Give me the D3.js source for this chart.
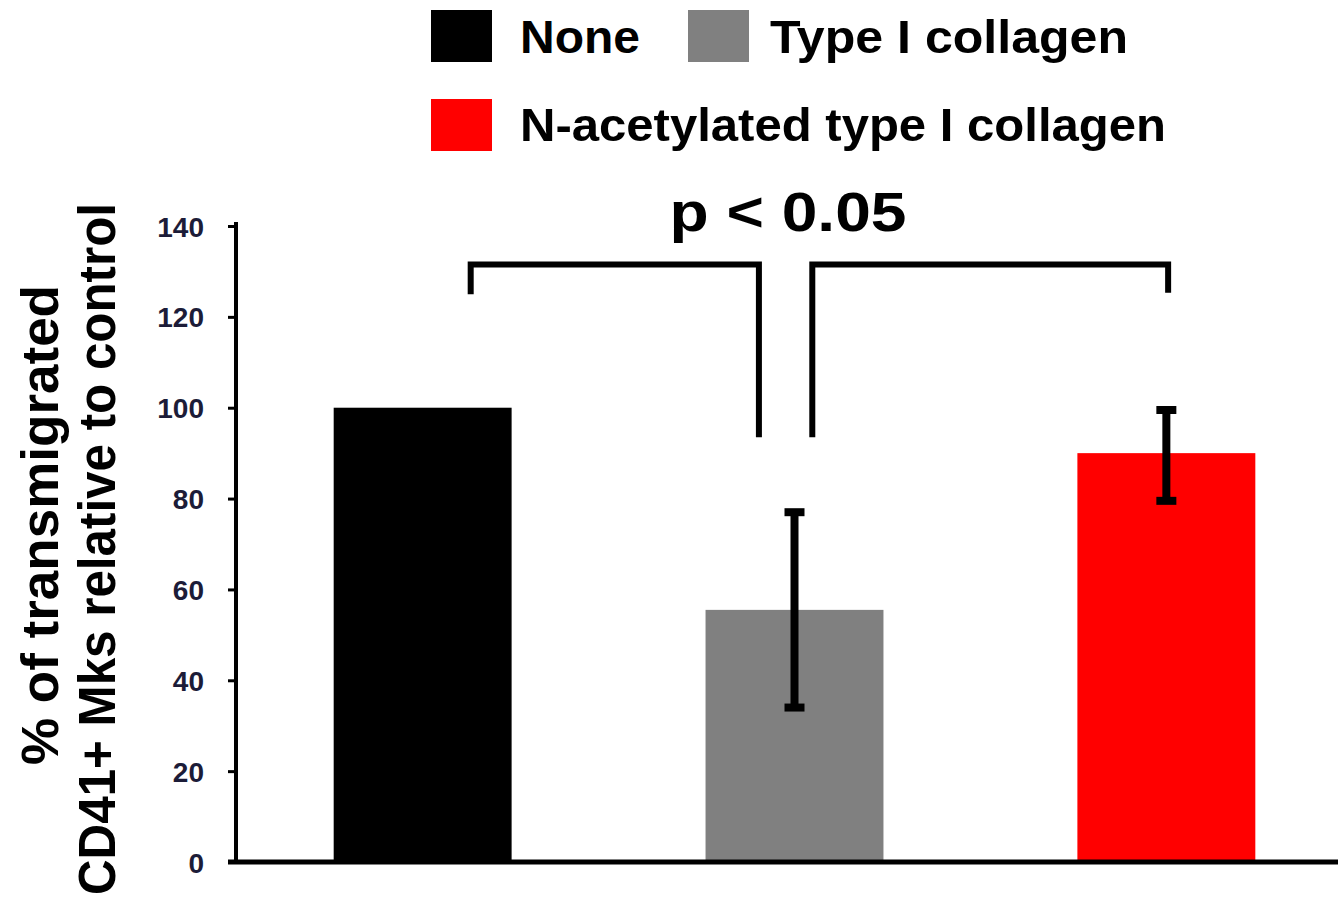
<!DOCTYPE html>
<html>
<head>
<meta charset="utf-8">
<script src="https://cdn.jsdelivr.net/npm/d3@7/dist/d3.min.js"></script>
<style>
  html, body { margin: 0; padding: 0; background: #fff; }
  svg { display: block; }
  text { font-family: "Liberation Sans", Arial, sans-serif; font-weight: bold; }
</style>
</head>
<body>
<svg id="chart" width="1338" height="901"></svg>
<script>
// ---- data ----
const categories = ["None", "Type I collagen", "N-acetylated type I collagen"];
const values = [100, 55.5, 90];
const errLow = [null, 34, 79.5];
const errHigh = [null, 77, 99.5];
const colors = ["#000000", "#808080", "#ff0000"];
const yTicks = [0, 20, 40, 60, 80, 100, 120, 140];
const yTitle = ["% of transmigrated", "CD41+ Mks relative to control"];
const pLabel = "p < 0.05";
// significance brackets: band-relative positions (0..1 within band)
const brackets = [
  { from: 0, fromPos: 0.77, to: 1, toPos: 0.30, level: 131.5, fromEnd: 125, toEnd: 93.5 },
  { from: 1, fromPos: 0.60, to: 2, toPos: 0.51, level: 131.5, fromEnd: 93.5, toEnd: 125.3 }
];

const svg = d3.select("#chart");

const x = d3.scaleBand().domain(categories).range([237, 1352]).paddingInner(0.5215).paddingOuter(0.26);
const y = d3.scaleLinear().domain([0, 140]).range([862, 226]);

// bars
svg.append("g").selectAll("rect").data(categories).join("rect")
  .attr("x", d => x(d))
  .attr("width", x.bandwidth())
  .attr("y", (d, i) => y(values[i]))
  .attr("height", (d, i) => y(0) - y(values[i]))
  .attr("fill", (d, i) => colors[i]);

// error bars
const eb = svg.append("g").attr("stroke", "#000");
categories.forEach((c, i) => {
  if (errLow[i] == null) return;
  const cx = x(c) + x.bandwidth() / 2;
  eb.append("line").attr("x1", cx).attr("x2", cx)
    .attr("y1", y(errLow[i])).attr("y2", y(errHigh[i])).attr("stroke-width", 8);
  [errLow[i], errHigh[i]].forEach(v => {
    eb.append("line").attr("x1", cx - 10).attr("x2", cx + 10)
      .attr("y1", y(v)).attr("y2", y(v)).attr("stroke-width", 8);
  });
});

// y axis
const yAxis = d3.axisLeft(y).tickValues(yTicks).tickSize(8).tickSizeOuter(0).tickPadding(24);
const gy = svg.append("g").attr("transform", "translate(236,0)").call(yAxis);
gy.select(".domain").attr("stroke", "#000").attr("stroke-width", 4)
  .attr("d", `M0,${y(0)}V${y(140) - 4}`);
gy.selectAll(".tick line").attr("stroke", "#000").attr("stroke-width", 3);
gy.selectAll(".tick text").attr("fill", "#1c1c38").attr("font-size", 28)
  .attr("font-weight", "bold").attr("font-family", "Liberation Sans, Arial, sans-serif")
  .attr("dy", "0.36em");

// x axis line
svg.append("line").attr("x1", 228).attr("x2", 1338).attr("y1", y(0)).attr("y2", y(0))
  .attr("stroke", "#000").attr("stroke-width", 5);

// brackets
const bg = svg.append("g").attr("fill", "none").attr("stroke", "#000").attr("stroke-width", 6)
  .attr("stroke-linejoin", "miter");
brackets.forEach(b => {
  const x1 = x(categories[b.from]) + b.fromPos * x.bandwidth();
  const x2 = x(categories[b.to]) + b.toPos * x.bandwidth();
  bg.append("path").attr("d",
    `M${x1},${y(b.fromEnd)}V${y(b.level)}H${x2}V${y(b.toEnd)}`);
});

// p label
svg.append("text").attr("x", 788).attr("y", 231).attr("text-anchor", "middle")
  .attr("font-size", 56).attr("textLength", 237).attr("lengthAdjust", "spacingAndGlyphs")
  .text(pLabel);

// legend
const legendItems = [
  { i: 0, sx: 431, sy: 10, tx: 520, ty: 53, w: 120 },
  { i: 1, sx: 688, sy: 10, tx: 770, ty: 53, w: 358 },
  { i: 2, sx: 431, sy: 99, tx: 520, ty: 141, w: 646 }
];
const lg = svg.append("g");
legendItems.forEach(it => {
  lg.append("rect").attr("x", it.sx).attr("y", it.sy).attr("width", 61).attr("height", 52)
    .attr("fill", colors[it.i]);
  lg.append("text").attr("x", it.tx).attr("y", it.ty).attr("font-size", 47)
    .attr("textLength", it.w).attr("lengthAdjust", "spacingAndGlyphs")
    .text(categories[it.i]);
});

// y title
svg.append("text").attr("transform", "translate(58,525) rotate(-90)")
  .attr("text-anchor", "middle").attr("font-size", 51)
  .attr("textLength", 480).attr("lengthAdjust", "spacingAndGlyphs").text(yTitle[0]);
svg.append("text").attr("transform", "translate(115,549) rotate(-90)")
  .attr("text-anchor", "middle").attr("font-size", 51)
  .attr("textLength", 692).attr("lengthAdjust", "spacingAndGlyphs").text(yTitle[1]);
</script>
</body>
</html>
